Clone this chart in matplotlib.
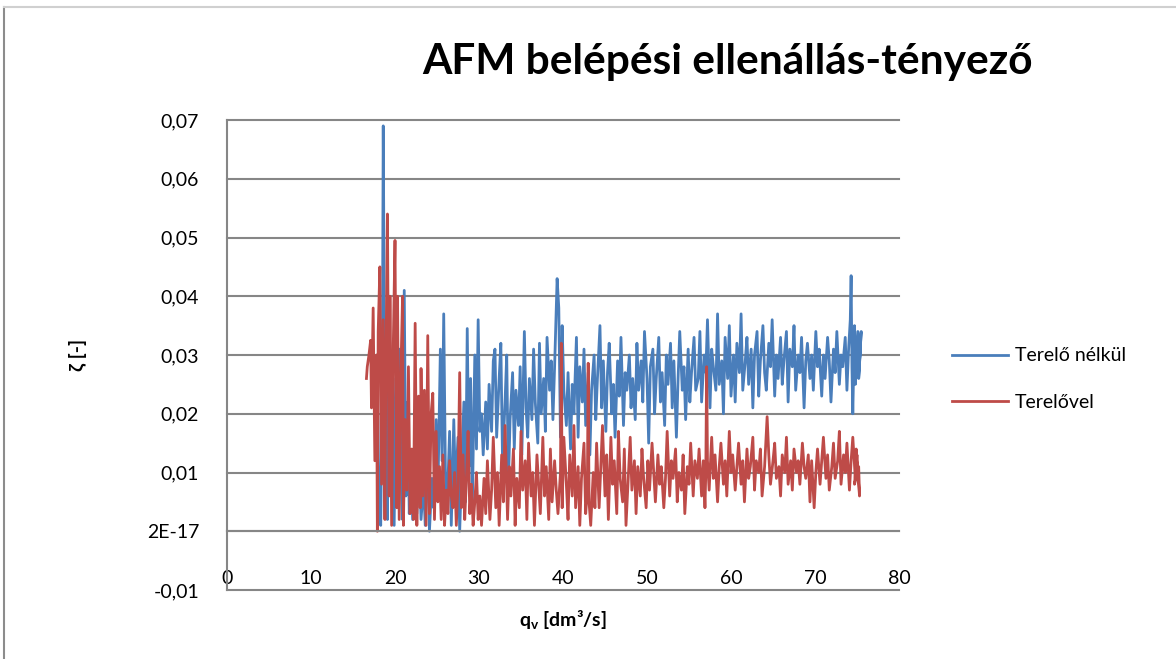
import matplotlib
matplotlib.use("Agg")
import matplotlib.pyplot as plt
from matplotlib.lines import Line2D

plt.rcParams['font.family'] = ['Lato', 'DejaVu Sans']
plt.rcParams['mathtext.fontset'] = 'custom'
plt.rcParams['mathtext.rm'] = 'Lato'
plt.rcParams['mathtext.bf'] = 'Lato:bold'

title = "AFM belépési ellenállás-tényező"
x_label = "q$_\\mathbf{v}$ [dm³/s]"
y_label = "ζ [-]"
series_names = ["Terelő nélkül", "Terelővel"]
x_ticks = [0, 10, 20, 30, 40, 50, 60, 70, 80]
y_ticks = [-0.01, 0.0, 0.01, 0.02, 0.03, 0.04, 0.05, 0.06, 0.07]
y_tick_labels = ["-0,01", "2E-17", "0,01", "0,02", "0,03", "0,04", "0,05", "0,06", "0,07"]

# Terelő nélkül (blue)
blue_x = [
    17.9, 18.1, 18.3, 18.5, 18.6, 18.8, 19.0, 19.1, 19.3, 19.5, 19.7, 19.9, 20.1, 20.3, 20.5, 20.7, 20.9, 21.1, 21.3, 21.5, 21.7, 21.9,
    22.1, 22.4, 22.6, 22.9, 23.1, 23.4, 23.6, 23.9, 24.1, 24.4, 24.6, 24.9, 25.1, 25.4, 25.6, 25.8, 26.0, 26.2, 26.5, 26.7, 27.0, 27.2, 27.5, 27.7, 28.0, 28.2, 28.4, 28.6, 28.8, 29.0, 29.2, 29.5, 29.7, 29.9, 30.1,
    30.3, 30.5, 30.8, 31.0, 31.2, 31.5, 31.7, 31.9, 32.1, 32.4, 32.6, 32.8, 33.1, 33.3, 33.5, 33.7, 34.0, 34.2, 34.4, 34.7, 34.9, 35.1, 35.4, 35.6, 35.8, 36.0, 36.3, 36.5, 36.7, 37.0, 37.2, 37.4, 37.7, 37.9, 38.1, 38.4, 38.6, 38.8, 39.0, 39.3, 39.5, 39.7, 39.9, 40.1,
    40.4, 40.6, 40.9, 41.1, 41.3, 41.6, 41.8, 42.0, 42.3, 42.5, 42.7, 43.0, 43.2, 43.4, 43.7, 43.9, 44.1, 44.4, 44.6, 44.8, 45.1, 45.3, 45.5, 45.8, 46.0, 46.2, 46.5, 46.7, 46.9, 47.2, 47.4, 47.6, 47.9, 48.1, 48.3, 48.6, 48.8, 49.0, 49.3, 49.5, 49.7, 50.0, 50.2, 50.4, 50.7, 50.9, 51.1, 51.4, 51.6, 51.8, 52.1, 52.3, 52.5, 52.8, 53.0, 53.2, 53.5, 53.7, 53.9, 54.2, 54.4, 54.6, 54.9, 55.1, 55.3, 55.6, 55.8,
    56.1, 56.3, 56.5, 56.8, 57.0, 57.2, 57.5, 57.7, 57.9, 58.2, 58.4, 58.6, 58.9, 59.1, 59.3, 59.6, 59.8, 60.0, 60.3, 60.5, 60.7, 61.0, 61.2, 61.4, 61.7, 61.9, 62.1, 62.4, 62.6, 62.8, 63.1, 63.3, 63.5, 63.8, 64.0, 64.2, 64.5, 64.7, 64.9, 65.2, 65.4, 65.6, 65.9, 66.1, 66.3, 66.6, 66.8, 67.0, 67.3, 67.5, 67.7, 68.0, 68.2, 68.4, 68.7, 68.9, 69.1, 69.4, 69.6, 69.8, 70.1, 70.3, 70.5, 70.8, 71.0, 71.2, 71.5, 71.7, 71.9, 72.2, 72.4, 72.6, 72.9, 73.1, 73.3, 73.6, 73.8, 74.0, 74.2, 74.3, 74.4, 74.5, 74.7, 74.9, 75.0, 74.8, 75.1, 75.3, 75.5, 75.2, 75.4,
]
blue_y = [
    0.026, 0.004, 0.001, 0.030, 0.069, 0.016, 0.036, 0.002, 0.034, 0.009, 0.029, 0.001, 0.026, 0.005, 0.031, 0.012, 0.002, 0.041, 0.006, 0.022, 0.003, 0.012,
    0.002, 0.013, 0.003, 0.012, 0.002, 0.008, 0.001, 0.015, 0.000, 0.009, 0.004, 0.019, 0.006, 0.031, 0.012, 0.037, 0.010, 0.004, 0.017, 0.001, 0.019, 0.007, 0.016, 0.000, 0.013, 0.022, 0.005, 0.0345, 0.011, 0.026, 0.004, 0.030, 0.014, 0.036, 0.017,
    0.020, 0.013, 0.022, 0.014, 0.025, 0.017, 0.029, 0.031, 0.016, 0.026, 0.032, 0.012, 0.022, 0.030, 0.008, 0.019, 0.027, 0.014, 0.024, 0.018, 0.028, 0.013, 0.034, 0.021, 0.016, 0.026, 0.019, 0.031, 0.022, 0.015, 0.032, 0.020, 0.026, 0.017, 0.033, 0.024, 0.029, 0.019, 0.028, 0.043, 0.038, 0.016, 0.035, 0.024,
    0.018, 0.027, 0.014, 0.025, 0.020, 0.033, 0.016, 0.028, 0.022, 0.031, 0.018, 0.027, 0.013, 0.024, 0.030, 0.019, 0.026, 0.035, 0.021, 0.029, 0.017, 0.027, 0.032, 0.020, 0.025, 0.016, 0.029, 0.023, 0.033, 0.018, 0.027, 0.024, 0.030, 0.021, 0.026, 0.019, 0.032, 0.024, 0.029, 0.022, 0.034, 0.026, 0.015, 0.028, 0.031, 0.020, 0.026, 0.033, 0.022, 0.027, 0.018, 0.030, 0.025, 0.032, 0.021, 0.029, 0.016, 0.026, 0.034, 0.024, 0.028, 0.019, 0.031, 0.022, 0.027, 0.033, 0.024,
    0.026, 0.034, 0.022, 0.030, 0.027, 0.036, 0.021, 0.031, 0.028, 0.024, 0.037, 0.025, 0.029, 0.020, 0.033, 0.026, 0.035, 0.023, 0.030, 0.022, 0.032, 0.027, 0.037, 0.024, 0.029, 0.033, 0.025, 0.031, 0.021, 0.030, 0.034, 0.023, 0.029, 0.035, 0.027, 0.024, 0.032, 0.028, 0.036, 0.023, 0.030, 0.026, 0.033, 0.025, 0.029, 0.034, 0.022, 0.031, 0.028, 0.035, 0.024, 0.030, 0.027, 0.033, 0.021, 0.029, 0.032, 0.026, 0.030, 0.024, 0.034, 0.028, 0.031, 0.023, 0.030, 0.026, 0.033, 0.029, 0.022, 0.031, 0.027, 0.034, 0.025, 0.030, 0.028, 0.033, 0.024, 0.031, 0.036, 0.0435, 0.028, 0.020, 0.035, 0.027, 0.032, 0.025, 0.034, 0.029, 0.034, 0.026, 0.031,
]

# Terelővel (red)
red_x = [
    16.6, 16.7, 16.9, 17.1, 17.2, 17.4, 17.6, 17.8, 17.9, 18.0, 18.2, 18.4, 18.6, 18.8, 18.9, 19.1, 19.3, 19.4, 19.6, 19.8, 20.0, 20.2, 20.3, 20.5, 20.7, 20.9, 21.0, 21.2, 21.4, 21.6, 21.8,
    22.0, 22.2, 22.4, 22.6, 22.8, 23.0, 23.1, 23.3, 23.5, 23.7, 23.9, 24.1, 24.3, 24.5, 24.7, 24.9, 25.1, 25.3, 25.5, 25.7, 25.9, 26.1, 26.3, 26.5, 26.7, 26.9, 27.1, 27.3, 27.5, 27.7, 27.9, 28.1, 28.3, 28.5, 28.7, 28.9, 29.1, 29.3, 29.5, 29.7, 29.9,
    30.1, 30.3, 30.6, 30.8, 31.0, 31.3, 31.5, 31.7, 32.0, 32.2, 32.4, 32.7, 32.9, 33.1, 33.4, 33.6, 33.8, 34.1, 34.3, 34.5, 34.8, 35.0, 35.2, 35.5, 35.7, 35.9, 36.2, 36.4, 36.6, 36.9, 37.1, 37.3, 37.6, 37.8, 38.0, 38.3, 38.5, 38.7, 39.0, 39.2, 39.4, 39.7, 39.8, 39.9, 40.1, 40.4, 40.6, 40.8, 41.1, 41.3, 41.5, 41.8, 42.0, 42.2, 42.5, 42.7, 42.9, 43.0, 43.1, 43.3, 43.6, 43.8,
    44.0, 44.3, 44.5, 44.7, 45.0, 45.2, 45.4, 45.7, 45.9, 46.1, 46.4, 46.6, 46.8, 47.1, 47.3, 47.5, 47.8, 48.0, 48.2, 48.5, 48.7, 48.9, 49.2, 49.4, 49.6, 49.9, 50.1, 50.3, 50.6, 50.8, 51.0, 51.3, 51.5, 51.7, 52.0, 52.2, 52.4, 52.7, 52.9, 53.1, 53.4, 53.6, 53.8, 54.1, 54.3, 54.5, 54.8, 55.0, 55.2, 55.5, 55.7,
    56.0, 56.2, 56.5, 56.7, 56.9, 57.0, 57.1, 57.2, 57.4, 57.7, 57.9, 58.1, 58.4, 58.6, 58.8, 59.1, 59.3, 59.5, 59.8, 60.0, 60.2, 60.5, 60.7, 60.9, 61.2, 61.4, 61.6, 61.9, 62.1, 62.3, 62.6, 62.8, 63.0, 63.3, 63.5, 63.7, 64.0, 64.3, 64.5, 64.7, 65.0, 65.2, 65.4, 65.7, 65.9, 66.1, 66.4, 66.6, 66.8, 67.1, 67.3, 67.5, 67.8, 68.0, 68.2, 68.5, 68.7, 68.9, 69.2, 69.4, 69.6, 69.9, 70.1, 70.3, 70.6, 70.8, 71.0, 71.3, 71.5, 71.7, 72.0, 72.2, 72.4, 72.7, 72.9, 73.1, 73.4, 73.6, 73.8, 74.1, 74.3, 74.5, 74.8, 75.0, 74.7, 75.2, 75.3, 74.9, 75.1,
]
red_y = [
    0.026, 0.028, 0.030, 0.0325, 0.021, 0.038, 0.012, 0.030, 0.000, 0.034, 0.045, 0.008, 0.036, 0.002, 0.025, 0.054, 0.006, 0.040, 0.001, 0.032, 0.0495, 0.004, 0.040, 0.002, 0.027, 0.040, 0.001, 0.019, 0.007, 0.028, 0.003,
    0.014, 0.002, 0.0354, 0.001, 0.023, 0.004, 0.0277, 0.006, 0.024, 0.001, 0.0333, 0.003, 0.020, 0.0235, 0.002, 0.017, 0.005, 0.011, 0.002, 0.013, 0.001, 0.007, 0.003, 0.012, 0.006, 0.004, 0.010, 0.001, 0.008, 0.027, 0.004, 0.013, 0.002, 0.009, 0.017, 0.003, 0.008, 0.001, 0.005, 0.010, 0.002,
    0.006, 0.001, 0.009, 0.003, 0.012, 0.002, 0.007, 0.016, 0.004, 0.010, 0.001, 0.013, 0.005, 0.018, 0.002, 0.011, 0.006, 0.014, 0.001, 0.009, 0.004, 0.017, 0.007, 0.012, 0.002, 0.015, 0.006, 0.010, 0.001, 0.013, 0.008, 0.003, 0.016, 0.006, 0.011, 0.002, 0.014, 0.005, 0.012, 0.007, 0.003, 0.010, 0.032, 0.004, 0.016, 0.008, 0.002, 0.013, 0.006, 0.018, 0.004, 0.011, 0.001, 0.009, 0.015, 0.003, 0.007, 0.0286, 0.005, 0.001, 0.010, 0.004,
    0.015, 0.004, 0.011, 0.018, 0.006, 0.013, 0.002, 0.016, 0.008, 0.012, 0.003, 0.017, 0.009, 0.005, 0.014, 0.001, 0.010, 0.016, 0.007, 0.012, 0.003, 0.011, 0.006, 0.014, 0.009, 0.004, 0.012, 0.007, 0.015, 0.010, 0.005, 0.013, 0.008, 0.011, 0.004, 0.009, 0.017, 0.006, 0.012, 0.009, 0.014, 0.005, 0.010, 0.007, 0.013, 0.003, 0.011, 0.008, 0.015, 0.006, 0.012,
    0.009, 0.014, 0.006, 0.012, 0.004, 0.010, 0.028, 0.012, 0.007, 0.016, 0.009, 0.013, 0.005, 0.011, 0.015, 0.008, 0.012, 0.006, 0.017, 0.010, 0.013, 0.007, 0.011, 0.015, 0.008, 0.012, 0.005, 0.014, 0.009, 0.011, 0.016, 0.007, 0.012, 0.010, 0.014, 0.006, 0.011, 0.0195, 0.013, 0.008, 0.012, 0.015, 0.009, 0.011, 0.006, 0.013, 0.010, 0.016, 0.008, 0.012, 0.007, 0.014, 0.010, 0.012, 0.008, 0.015, 0.011, 0.009, 0.013, 0.005, 0.012, 0.004, 0.010, 0.014, 0.008, 0.012, 0.016, 0.009, 0.013, 0.007, 0.011, 0.015, 0.009, 0.012, 0.017, 0.008, 0.013, 0.010, 0.015, 0.007, 0.012, 0.016, 0.009, 0.013, 0.008, 0.011, 0.006, 0.014, 0.010,
]

BLUE = "#4A7EBB"
RED = "#BE4B48"
GRID = "#868686"

fig = plt.figure(figsize=(11.76, 6.59), dpi=100)
ax = fig.add_axes([227/1176, 1 - 590/659, (899-227)/1176, (590-120)/659])

ax.plot(blue_x, blue_y, color=BLUE, lw=2.0, label=series_names[0], solid_joinstyle='round')
ax.plot(red_x, red_y, color=RED, lw=2.0, label=series_names[1], solid_joinstyle='round')

ax.set_xlim(0, 80)
ax.set_ylim(-0.01, 0.07)
ax.set_xticks(x_ticks)
ax.set_xticklabels([str(t) for t in x_ticks])
ax.set_yticks(y_ticks)
ax.set_yticklabels(y_tick_labels)
ax.grid(axis='y', color=GRID, lw=1.5)
ax.set_axisbelow(True)
for g in ax.get_ygridlines():
    g.set_clip_on(False)

for s in ['top', 'right']:
    ax.spines[s].set_visible(False)
ax.spines['bottom'].set_position(('data', 0))
ax.spines['bottom'].set_color(GRID)
ax.spines['bottom'].set_linewidth(1.5)
ax.spines['left'].set_color(GRID)
ax.spines['left'].set_linewidth(1.5)
ax.tick_params(axis='x', length=0, pad=28, labelsize=14)
ax.tick_params(axis='y', length=0, pad=20, labelsize=14)

fig.text(727/1176, 1 - 62/659, title, ha='center', va='center', fontsize=30.5, fontweight='bold')
fig.text(563/1176, 1 - 620/659, x_label, ha='center', va='center', fontsize=14, fontweight='bold')
fig.text(78/1176, 1 - 355/659, y_label, ha='center', va='center', fontsize=14, fontweight='bold', rotation=90)

leg = ax.legend(frameon=False, loc='center left', bbox_to_anchor=(952/1176, 1 - 379/659),
                bbox_transform=fig.transFigure, fontsize=14, handlelength=2.9,
                handletextpad=0.35, labelspacing=1.5, borderpad=0, borderaxespad=0)

fig.add_artist(Line2D([4/1176, 4/1176], [0, 1 - 7/659], transform=fig.transFigure, color="#8C8C8C", lw=1.5))
fig.add_artist(Line2D([4/1176, 1], [1 - 7/659, 1 - 7/659], transform=fig.transFigure, color="#D0D0D0", lw=1.5))

fig.savefig("out.png", dpi=100)
